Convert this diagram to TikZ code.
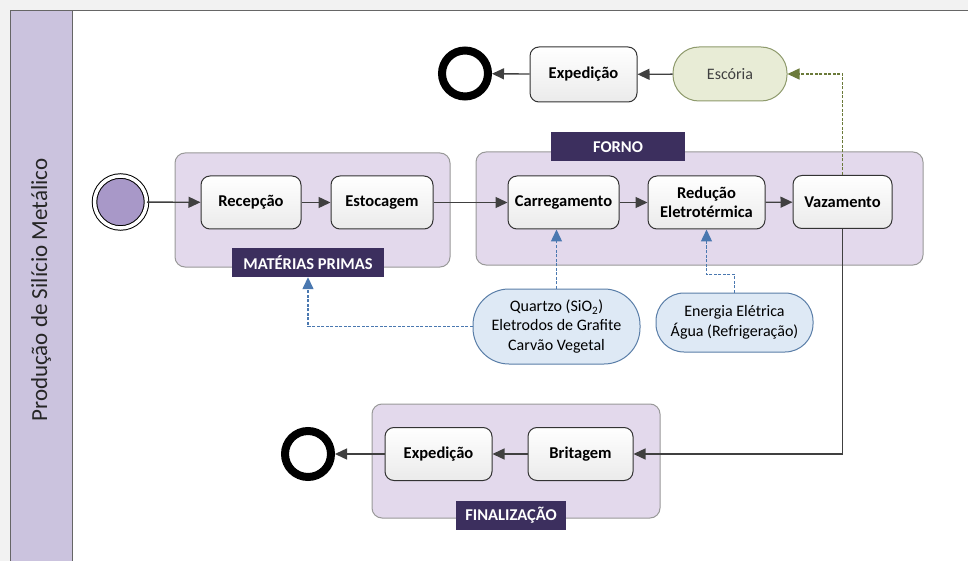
\documentclass[tikz,border=0pt]{standalone}
\usepackage{fontspec}
\setmainfont{Carlito}
\usetikzlibrary{positioning}
\usetikzlibrary{shapes}
\usetikzlibrary{arrows.meta}
\usepackage{xcolor}
\definecolor{laneFill}{HTML}{CBC3DE}
\definecolor{grpFill}{HTML}{E3D9EC}
\definecolor{lblFill}{HTML}{3C2F5E}
\definecolor{startFill}{HTML}{A898C8}
\definecolor{pillFill}{HTML}{DEE9F5}
\definecolor{pillLine}{HTML}{5A7EA8}
\definecolor{slagFill}{HTML}{E8ECD6}
\definecolor{slagLine}{HTML}{8E9A6C}
\definecolor{flowCol}{HTML}{404040}
\definecolor{assocBlue}{HTML}{4A78B0}
\definecolor{assocGreen}{HTML}{6B7A3A}

\begin{document}
\begin{tikzpicture}[x=1pt, y=-1pt,
    every node/.style={font=\fontsize{16}{19.5}\selectfont},
    task/.style={draw=black!80, line width=1pt, rounded corners=9pt, top color=white, bottom color=black!8,
        font=\bfseries\fontsize{16.5}{19.5}\selectfont, minimum height=53pt, align=center, inner sep=0pt},
    grp/.style={draw=black!40, fill=grpFill, rounded corners=10pt, line width=1pt, inner sep=0pt},
    lbl/.style={fill=lblFill, text=white, font=\bfseries\fontsize{16.5}{18}\selectfont, inner sep=0pt, minimum height=29pt},
    pill/.style={draw=pillLine, fill=pillFill, line width=1pt, align=center, inner sep=0pt},
    endev/.style={circle, draw=black, line width=8pt, fill=white, minimum size=46pt, inner sep=0pt},
    flow/.style={draw=flowCol, line width=1.4pt, -{Triangle[length=12pt,width=11pt]}},
    assocB/.style={draw=assocBlue, line width=1.4pt, dash pattern=on 3pt off 1.5pt, -{Triangle[length=12pt,width=11pt]}},
    assocG/.style={draw=assocGreen, line width=1.4pt, dash pattern=on 3pt off 1.5pt, -{Triangle[length=12pt,width=11pt]}}]
    \useasboundingbox (0,0) rectangle (968,561);
    \fill[black!5] (0,0) rectangle (968,561);

    % pool and lane
    \draw[black!60, line width=1pt, fill=white] (10,11) rectangle (985,580);
    \draw[black!60, line width=1pt, fill=laneFill] (10,11) rectangle (72,580);
    \node[rotate=90, font=\fontsize{23}{27}\selectfont, text=black!85] (laneTitle) at (41, 290) {Produção de Silício Metálico};

    % groups
    \node[grp, minimum width=275pt, minimum height=114pt] (grpMP) at (312.5, 210) {};
    \node[grp, minimum width=447pt, minimum height=113pt] (grpFO) at (699.5, 208.5) {};
    \node[grp, minimum width=288pt, minimum height=114pt] (grpFI) at (516, 461) {};
    \node[lbl, minimum width=152pt] (lblMP) at (308, 262.5) {MATÉRIAS PRIMAS};
    \node[lbl, minimum width=134pt] (lblFO) at (618, 147) {FORNO};
    \node[lbl, minimum width=110pt] (lblFI) at (511, 515.5) {FINALIZAÇÃO};

    % events
    \node[circle, draw=black, line width=1pt, double=white, double distance=3.5pt, fill=startFill,
        minimum size=52pt, inner sep=0pt] (start) at (120.5, 202) {};
    \node[endev] (end1) at (465, 73.5) {};
    \node[endev] (end2) at (308, 454) {};

    % tasks
    \node[task, minimum width=100pt] (recep) at (251, 202.5) {Recepção};
    \node[task, minimum width=102pt] (estoc) at (382, 202.5) {Estocagem};
    \node[task, minimum width=111pt] (carreg) at (563.5, 202.5) {Carregamento};
    \node[task, minimum width=117pt] (reduc) at (706.5, 202.5) {Redução\\Eletrotérmica};
    \node[task, minimum width=99pt] (vaz) at (842.5, 202) {Vazamento};
    \node[task, minimum width=107pt, minimum height=55pt] (exped1) at (583.5, 74.5) {Expedição};
    \node[task, minimum width=105pt] (brit) at (580.5, 454) {Britagem};
    \node[task, minimum width=107pt] (exped2) at (438.5, 454) {Expedição};

    % data objects
    \node[pill, draw=slagLine, fill=slagFill, rounded corners=26pt, minimum width=114pt, minimum height=54pt,
        text=black!75] (escoria) at (730, 74) {Escória};
    \node[pill, rounded corners=36pt, minimum width=167pt, minimum height=75pt] (quartzo) at (556.5, 326.5)
        {Quartzo (SiO\textsubscript{2})\\Eletrodos de Grafite\\Carvão Vegetal};
    \node[pill, rounded corners=28pt, minimum width=157pt, minimum height=59pt] (energia) at (734.5, 322.5)
        {Energia Elétrica\\Água (Refrigeração)};

    % sequence flows
    \draw[flow] (start) -- (recep);
    \draw[flow] (recep) -- (estoc);
    \draw[flow] (estoc) -- (carreg);
    \draw[flow] (carreg) -- (reduc);
    \draw[flow] (reduc) -- (vaz);
    \draw[flow] (vaz.south) |- (brit.east);
    \draw[flow] (brit) -- (exped2);
    \draw[flow] (exped2) -- (end2);
    \draw[flow] (escoria) -- (exped1);
    \draw[flow] (exped1) -- (end1);

    % associations
    \draw[assocG] (vaz.north) |- (escoria.east);
    \draw[assocB] (quartzo.north) -- (quartzo.north |- carreg.south);
    \draw[assocB] (quartzo.west) -| (lblMP.south);
    \draw[assocB] (energia.north) -- ++(0,-18) -| (reduc.south);
\end{tikzpicture}
\end{document}
